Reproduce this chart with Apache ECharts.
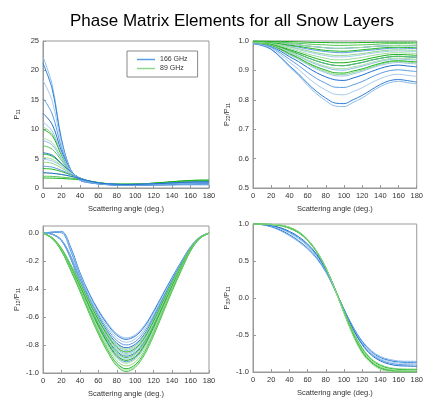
<!DOCTYPE html>
<html>
<head>
<meta charset="utf-8">
<script src="https://cdn.jsdelivr.net/npm/echarts@6/dist/echarts.min.js"></script>
<style>
  html, body { margin: 0; padding: 0; background: #fff; }
  #main { width: 426px; height: 401px; }
</style>
</head>
<body>
<div id="main"></div>
<script>
var chart = echarts.init(document.getElementById('main'));

// scattering angle samples (deg.)
var angles = [0, 10, 20, 30, 40, 50, 60, 70, 80, 90, 100, 110, 120, 130, 140, 150, 160, 170, 180];

// P11, 166 GHz
var p11Blue = [
  [22.3,17.5,8.4,3.1,1.3,0.9,0.7,0.55,0.45,0.42,0.42,0.43,0.45,0.48,0.5,0.52,0.52,0.52,0.52],
  [21.2,16.8,8.2,3.1,1.35,0.9,0.7,0.56,0.47,0.44,0.44,0.45,0.48,0.52,0.56,0.6,0.62,0.63,0.63],
  [18.3,14.8,7.6,3.1,1.4,0.95,0.72,0.57,0.5,0.47,0.47,0.49,0.52,0.57,0.62,0.66,0.7,0.72,0.72],
  [15.3,12.6,6.9,3.1,1.45,0.95,0.73,0.6,0.52,0.5,0.5,0.52,0.56,0.6,0.65,0.7,0.74,0.76,0.77],
  [12.7,10.8,6.3,3.0,1.5,1.0,0.75,0.6,0.54,0.52,0.53,0.55,0.59,0.64,0.7,0.75,0.8,0.82,0.83],
  [11.2,9.7,5.9,3.0,1.55,1.0,0.77,0.62,0.56,0.54,0.55,0.57,0.62,0.67,0.73,0.79,0.84,0.87,0.88],
  [8.1,7.3,5.0,2.9,1.6,1.05,0.8,0.65,0.58,0.56,0.57,0.6,0.65,0.7,0.77,0.83,0.88,0.92,0.93],
  [6.0,5.6,4.2,2.8,1.65,1.1,0.82,0.67,0.6,0.58,0.59,0.62,0.67,0.73,0.8,0.87,0.92,0.96,0.97],
  [4.9,4.6,3.7,2.6,1.7,1.12,0.84,0.68,0.61,0.59,0.6,0.63,0.68,0.75,0.82,0.89,0.95,0.99,1.0],
  [3.7,3.55,3.0,2.35,1.7,1.15,0.86,0.7,0.62,0.6,0.61,0.64,0.7,0.77,0.85,0.92,0.98,1.02,1.03],
  [2.6,2.5,2.3,2.0,1.6,1.2,0.88,0.72,0.63,0.61,0.62,0.66,0.72,0.79,0.87,0.95,1.01,1.05,1.06]
];
// P11, 89 GHz
var p11Green = [
  [10.4,9.2,5.8,3.0,1.55,1.0,0.78,0.63,0.56,0.55,0.57,0.61,0.67,0.74,0.82,0.9,0.97,1.01,1.02],
  [10.0,8.9,5.6,3.0,1.55,1.02,0.79,0.64,0.57,0.56,0.58,0.62,0.69,0.77,0.85,0.93,1.0,1.04,1.05],
  [8.5,7.7,5.2,2.9,1.6,1.05,0.8,0.65,0.58,0.57,0.59,0.64,0.71,0.79,0.88,0.96,1.03,1.07,1.08],
  [7.2,6.6,4.7,2.85,1.62,1.07,0.82,0.66,0.59,0.58,0.6,0.65,0.72,0.81,0.9,0.99,1.06,1.1,1.11],
  [5.8,5.4,4.1,2.75,1.65,1.1,0.83,0.67,0.6,0.59,0.61,0.66,0.74,0.83,0.93,1.02,1.1,1.14,1.15],
  [5.2,4.9,3.8,2.65,1.67,1.12,0.85,0.68,0.61,0.6,0.62,0.67,0.75,0.85,0.95,1.05,1.13,1.17,1.18],
  [4.4,4.2,3.4,2.5,1.7,1.14,0.86,0.69,0.62,0.61,0.63,0.69,0.77,0.87,0.98,1.08,1.16,1.2,1.21],
  [3.3,3.2,2.8,2.25,1.7,1.17,0.88,0.71,0.63,0.62,0.64,0.7,0.79,0.89,1.0,1.11,1.19,1.24,1.25],
  [2.6,2.5,2.3,2.0,1.62,1.2,0.9,0.72,0.64,0.63,0.65,0.71,0.8,0.91,1.03,1.14,1.23,1.28,1.29],
  [2.0,1.97,1.85,1.7,1.5,1.2,0.92,0.73,0.65,0.64,0.66,0.72,0.82,0.93,1.05,1.17,1.26,1.31,1.32],
  [1.7,1.68,1.62,1.52,1.4,1.18,0.93,0.74,0.66,0.65,0.67,0.73,0.83,0.95,1.08,1.2,1.29,1.34,1.35]
];

// P22/P11
var p22Blue = [
  [0.991,0.984,0.971,0.944,0.912,0.883,0.849,0.82,0.797,0.779,0.777,0.791,0.806,0.827,0.845,0.858,0.863,0.858,0.854],
  [0.991,0.985,0.972,0.946,0.916,0.888,0.856,0.828,0.806,0.789,0.787,0.8,0.815,0.834,0.852,0.865,0.869,0.865,0.86],
  [0.993,0.987,0.976,0.954,0.928,0.904,0.876,0.852,0.833,0.819,0.817,0.828,0.841,0.858,0.872,0.883,0.887,0.883,0.88],
  [0.994,0.989,0.979,0.96,0.938,0.917,0.893,0.872,0.856,0.843,0.842,0.851,0.862,0.877,0.89,0.899,0.902,0.899,0.896],
  [0.995,0.991,0.982,0.966,0.947,0.93,0.91,0.892,0.878,0.868,0.866,0.874,0.884,0.896,0.907,0.915,0.918,0.915,0.912],
  [0.995,0.992,0.984,0.97,0.953,0.938,0.92,0.904,0.892,0.882,0.881,0.888,0.897,0.908,0.917,0.924,0.927,0.924,0.922],
  [0.996,0.993,0.987,0.975,0.961,0.948,0.933,0.92,0.91,0.902,0.901,0.907,0.914,0.923,0.931,0.937,0.939,0.937,0.935],
  [0.997,0.994,0.989,0.979,0.967,0.956,0.943,0.932,0.923,0.917,0.916,0.921,0.927,0.935,0.941,0.946,0.948,0.946,0.945],
  [0.998,0.996,0.993,0.986,0.979,0.971,0.963,0.956,0.95,0.946,0.946,0.949,0.953,0.958,0.962,0.965,0.966,0.965,0.964],
  [0.998,0.997,0.995,0.99,0.984,0.979,0.973,0.968,0.964,0.961,0.96,0.963,0.966,0.969,0.972,0.975,0.976,0.975,0.974],
  [0.999,0.998,0.997,0.994,0.99,0.987,0.983,0.98,0.977,0.975,0.975,0.977,0.978,0.981,0.983,0.984,0.985,0.984,0.984]
];
var p22Green = [
  [0.995,0.992,0.985,0.971,0.955,0.94,0.923,0.908,0.896,0.887,0.886,0.893,0.901,0.911,0.921,0.928,0.93,0.928,0.925],
  [0.996,0.992,0.986,0.973,0.957,0.943,0.926,0.912,0.901,0.892,0.891,0.898,0.905,0.915,0.924,0.931,0.933,0.931,0.929],
  [0.996,0.993,0.988,0.976,0.963,0.951,0.936,0.924,0.914,0.907,0.906,0.912,0.918,0.927,0.934,0.94,0.942,0.94,0.938],
  [0.997,0.994,0.989,0.979,0.967,0.956,0.943,0.932,0.923,0.917,0.916,0.921,0.927,0.935,0.941,0.946,0.948,0.946,0.945],
  [0.997,0.995,0.99,0.981,0.971,0.961,0.95,0.94,0.932,0.926,0.926,0.93,0.935,0.942,0.948,0.953,0.954,0.953,0.951],
  [0.997,0.995,0.992,0.984,0.975,0.966,0.956,0.948,0.941,0.936,0.936,0.94,0.944,0.95,0.955,0.959,0.96,0.959,0.958],
  [0.998,0.997,0.994,0.988,0.981,0.974,0.967,0.96,0.955,0.951,0.951,0.954,0.957,0.962,0.966,0.969,0.97,0.969,0.968],
  [0.999,0.998,0.995,0.991,0.986,0.982,0.977,0.972,0.968,0.966,0.965,0.967,0.97,0.973,0.976,0.978,0.979,0.978,0.977],
  [0.999,0.998,0.997,0.994,0.99,0.987,0.983,0.98,0.977,0.975,0.975,0.977,0.978,0.981,0.983,0.984,0.985,0.984,0.984],
  [0.999,0.999,0.998,0.996,0.994,0.992,0.99,0.988,0.987,0.985,0.985,0.986,0.987,0.988,0.99,0.991,0.991,0.991,0.99],
  [1.0,1.0,0.999,0.999,0.998,0.997,0.996,0.995,0.995,0.994,0.994,0.994,0.995,0.995,0.996,0.996,0.996,0.996,0.996]
];

// P12/P11
var p12Blue = [
  [0,0.006,0.012,-0.1,-0.28,-0.428,-0.548,-0.645,-0.72,-0.75,-0.728,-0.66,-0.555,-0.435,-0.315,-0.203,-0.098,-0.03,0],
  [0,0.006,0.011,-0.105,-0.285,-0.433,-0.555,-0.654,-0.73,-0.76,-0.737,-0.669,-0.562,-0.441,-0.319,-0.205,-0.099,-0.03,0],
  [0,0.005,0.008,-0.115,-0.293,-0.445,-0.569,-0.671,-0.749,-0.78,-0.757,-0.686,-0.577,-0.452,-0.328,-0.211,-0.101,-0.031,0],
  [0,0.004,0.002,-0.13,-0.305,-0.46,-0.584,-0.688,-0.768,-0.8,-0.776,-0.704,-0.592,-0.464,-0.336,-0.216,-0.104,-0.032,0],
  [0,-0.008,-0.049,-0.164,-0.328,-0.476,-0.599,-0.705,-0.787,-0.82,-0.795,-0.722,-0.607,-0.476,-0.344,-0.221,-0.107,-0.033,0],
  [0,-0.008,-0.05,-0.168,-0.336,-0.487,-0.613,-0.722,-0.806,-0.84,-0.815,-0.739,-0.622,-0.487,-0.353,-0.227,-0.109,-0.034,0],
  [0,-0.009,-0.052,-0.172,-0.344,-0.499,-0.628,-0.74,-0.826,-0.86,-0.834,-0.757,-0.636,-0.499,-0.361,-0.232,-0.112,-0.034,0],
  [0,-0.009,-0.053,-0.176,-0.352,-0.51,-0.642,-0.757,-0.845,-0.88,-0.854,-0.774,-0.651,-0.51,-0.37,-0.238,-0.114,-0.035,0],
  [0,-0.009,-0.054,-0.18,-0.36,-0.522,-0.657,-0.774,-0.864,-0.9,-0.873,-0.792,-0.666,-0.522,-0.378,-0.243,-0.117,-0.036,0],
  [0,-0.009,-0.055,-0.184,-0.368,-0.534,-0.672,-0.791,-0.883,-0.92,-0.892,-0.81,-0.681,-0.534,-0.386,-0.248,-0.12,-0.037,0]
];
var p12Green = [
  [0,-0.033,-0.108,-0.224,-0.349,-0.481,-0.606,-0.714,-0.797,-0.83,-0.805,-0.73,-0.614,-0.481,-0.349,-0.224,-0.108,-0.033,0],
  [0,-0.034,-0.111,-0.23,-0.357,-0.493,-0.621,-0.731,-0.816,-0.85,-0.825,-0.748,-0.629,-0.493,-0.357,-0.23,-0.111,-0.034,0],
  [0,-0.035,-0.113,-0.235,-0.365,-0.505,-0.635,-0.748,-0.835,-0.87,-0.844,-0.766,-0.644,-0.505,-0.365,-0.235,-0.113,-0.035,0],
  [0,-0.036,-0.116,-0.24,-0.374,-0.516,-0.65,-0.765,-0.854,-0.89,-0.863,-0.783,-0.659,-0.516,-0.374,-0.24,-0.116,-0.036,0],
  [0,-0.036,-0.118,-0.246,-0.382,-0.528,-0.664,-0.783,-0.874,-0.91,-0.883,-0.801,-0.673,-0.528,-0.382,-0.246,-0.118,-0.036,0],
  [0,-0.037,-0.121,-0.251,-0.391,-0.539,-0.679,-0.8,-0.893,-0.93,-0.902,-0.818,-0.688,-0.539,-0.391,-0.251,-0.121,-0.037,0],
  [0,-0.038,-0.124,-0.257,-0.399,-0.551,-0.694,-0.817,-0.912,-0.95,-0.922,-0.836,-0.703,-0.551,-0.399,-0.257,-0.124,-0.038,0],
  [0,-0.039,-0.126,-0.262,-0.407,-0.563,-0.708,-0.834,-0.931,-0.97,-0.941,-0.854,-0.718,-0.563,-0.407,-0.262,-0.126,-0.039,0],
  [0,-0.039,-0.127,-0.265,-0.412,-0.568,-0.715,-0.843,-0.941,-0.98,-0.951,-0.862,-0.725,-0.568,-0.412,-0.265,-0.127,-0.039,0],
  [0,-0.04,-0.129,-0.267,-0.416,-0.574,-0.723,-0.851,-0.95,-0.99,-0.96,-0.871,-0.733,-0.574,-0.416,-0.267,-0.129,-0.04,0]
];

// P33/P11
var p33Blue = [
  [1,0.99,0.96,0.91,0.84,0.76,0.66,0.53,0.35,0.11,-0.15,-0.39,-0.58,-0.71,-0.79,-0.83,-0.85,-0.855,-0.855],
  [1,0.991,0.965,0.92,0.855,0.775,0.675,0.545,0.36,0.112,-0.152,-0.395,-0.59,-0.725,-0.805,-0.845,-0.865,-0.87,-0.87],
  [1,0.993,0.972,0.935,0.875,0.8,0.7,0.565,0.37,0.115,-0.155,-0.405,-0.605,-0.74,-0.82,-0.86,-0.88,-0.885,-0.885],
  [1,0.994,0.976,0.943,0.888,0.815,0.715,0.578,0.38,0.118,-0.158,-0.413,-0.618,-0.755,-0.835,-0.878,-0.898,-0.903,-0.905],
  [1,0.995,0.98,0.95,0.9,0.83,0.73,0.59,0.39,0.12,-0.16,-0.42,-0.63,-0.77,-0.85,-0.895,-0.915,-0.92,-0.925]
];
var p33Green = [
  [1,0.998,0.99,0.975,0.94,0.88,0.775,0.62,0.405,0.13,-0.17,-0.45,-0.67,-0.82,-0.9,-0.94,-0.955,-0.96,-0.96],
  [1,1,0.993,0.978,0.944,0.884,0.779,0.622,0.407,0.128,-0.178,-0.462,-0.685,-0.832,-0.912,-0.952,-0.966,-0.97,-0.97],
  [1,0.999,0.992,0.98,0.947,0.888,0.783,0.625,0.408,0.125,-0.185,-0.475,-0.7,-0.845,-0.925,-0.962,-0.977,-0.98,-0.98],
  [1,0.999,0.994,0.982,0.951,0.892,0.787,0.628,0.41,0.122,-0.193,-0.488,-0.715,-0.858,-0.938,-0.973,-0.988,-0.99,-0.99],
  [1,1,0.995,0.985,0.955,0.895,0.79,0.63,0.41,0.12,-0.2,-0.5,-0.73,-0.87,-0.95,-0.985,-0.998,-1,-1],
  [1,1,0.996,0.987,0.958,0.9,0.795,0.635,0.412,0.118,-0.205,-0.51,-0.745,-0.885,-0.962,-0.992,-1.0,-1,-1]
];

var blueShades = ['#8cbce9', '#2f7fd6', '#a6cbee', '#5b9de2', '#1f6fd0', '#9ac4ec'];
var greenShades = ['#8fd68f', '#1fb51f', '#a8dfa8', '#55c655', '#18b018', '#9cdb9c'];
var fontFam = '"Liberation Sans", Arial, sans-serif';

function makeSeries(idx, name, shades, curves) {
  return curves.map(function (vals, k) {
    return {
      name: name,
      type: 'line',
      xAxisIndex: idx,
      yAxisIndex: idx,
      smooth: 0.35,
      symbol: 'none',
      lineStyle: { width: 1, color: shades[k % shades.length] },
      itemStyle: { color: shades[k % shades.length] },
      data: angles.map(function (a, i) { return [a, vals[i]]; })
    };
  });
}

var grids = [
  { left: 43, top: 41, width: 166, height: 147 },
  { left: 253, top: 41, width: 166, height: 147 },
  { left: 43, top: 226, width: 166, height: 147 },
  { left: 253, top: 224, width: 167, height: 148 }
];

function xAxis(idx) {
  return {
    type: 'value', gridIndex: idx, min: 0, max: 180, interval: 20,
    name: 'Scattering angle (deg.)', nameLocation: 'middle', nameGap: 17,
    nameTextStyle: { fontSize: 7.5, color: '#333', fontFamily: fontFam },
    axisLine: { show: true, onZero: false, lineStyle: { color: '#999' } },
    axisTick: { show: true, inside: true, length: 3, lineStyle: { color: '#999' } },
    axisLabel: { fontSize: 7.5, color: '#333', margin: 4, fontFamily: fontFam },
    splitLine: { show: false }
  };
}

function yAxis(idx, min, max, interval, digits, main) {
  return {
    type: 'value', gridIndex: idx, min: min, max: max, interval: interval,
    name: main, nameLocation: 'middle', nameGap: 22, nameRotate: 90,
    nameTextStyle: {
      fontSize: 7.5, color: '#333', fontFamily: fontFam,
      rich: { s: { fontSize: 5, verticalAlign: 'bottom', color: '#333', padding: [4, 0, 0, 0] } }
    },
    axisLine: { show: true, onZero: false, lineStyle: { color: '#999' } },
    axisTick: { show: true, inside: true, length: 3, lineStyle: { color: '#999' } },
    axisLabel: {
      fontSize: 7.5, color: '#333', margin: 4, fontFamily: fontFam, showMaxLabel: idx !== 2,
      formatter: function (v) { return v.toFixed(digits); }
    },
    splitLine: { show: false }
  };
}

var series = []
  .concat(makeSeries(0, '89 GHz', greenShades, p11Green))
  .concat(makeSeries(0, '166 GHz', blueShades, p11Blue))
  .concat(makeSeries(1, '166 GHz', blueShades, p22Blue))
  .concat(makeSeries(1, '89 GHz', greenShades, p22Green))
  .concat(makeSeries(2, '166 GHz', blueShades, p12Blue))
  .concat(makeSeries(2, '89 GHz', greenShades, p12Green))
  .concat(makeSeries(3, '166 GHz', blueShades, p33Blue))
  .concat(makeSeries(3, '89 GHz', greenShades, p33Green));

var option = {
  animation: false,
  backgroundColor: '#fff',
  title: {
    text: 'Phase Matrix Elements for all Snow Layers',
    left: 65, top: 8,
    textStyle: { fontSize: 17, fontWeight: 'normal', color: '#000', fontFamily: fontFam }
  },
  legend: {
    left: 127, top: 51, orient: 'vertical',
    padding: [5, 10, 5, 10], itemGap: 2,
    borderColor: '#888', borderWidth: 1,
    icon: 'rect', itemWidth: 18, itemHeight: 1.5,
    textStyle: { fontSize: 7, color: '#333', fontFamily: fontFam },
    data: [
      { name: '166 GHz', itemStyle: { color: '#5b9de2' } },
      { name: '89 GHz', itemStyle: { color: '#8fd68f' } }
    ]
  },
  grid: grids.map(function (g) {
    return Object.assign({ show: true, borderColor: '#999', borderWidth: 1, backgroundColor: 'transparent' }, g);
  }),
  xAxis: [xAxis(0), xAxis(1), xAxis(2), xAxis(3)],
  yAxis: [
    yAxis(0, 0, 25, 5, 0, 'P{s|11}'),
    yAxis(1, 0.5, 1.0, 0.1, 1, 'P{s|22}/P{s|11}'),
    yAxis(2, -1.0, 0.05, 0.2, 1, 'P{s|12}/P{s|11}'),
    yAxis(3, -1.0, 1.0, 0.5, 1, 'P{s|33}/P{s|11}')
  ],
  series: series
};

chart.setOption(option);
</script>
</body>
</html>
